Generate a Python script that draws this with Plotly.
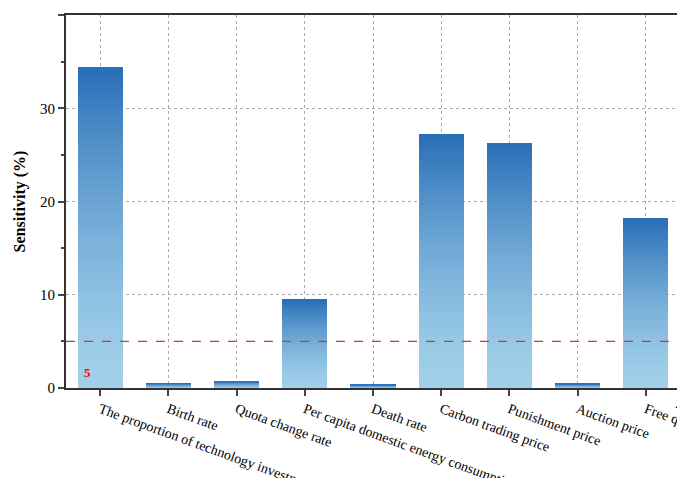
import plotly.graph_objects as go
import numpy as np

categories = ['The proportion of technology investment', 'Birth rate', 'Quota change rate',
              'Per capita domestic energy consumption', 'Death rate', 'Carbon trading price',
              'Punishment price', 'Auction price', 'Free quota']
sensitivity = [34.4, 0.5, 0.7, 9.5, 0.35, 27.2, 26.3, 0.45, 18.2]
threshold = 5

# fake a vertical gradient by stacking thin slices
n = 40
top = np.array([42, 112, 184])
bottom = np.array([160, 208, 234])
vals = np.array(sensitivity)

fig = go.Figure()
for i in range(n):
    t = (i / (n - 1)) ** 1.5
    c = bottom + (top - bottom) * t
    fig.add_trace(go.Bar(x=categories, y=vals / n, width=0.66,
                         marker=dict(color='rgb(%d,%d,%d)' % tuple(c), line_width=0),
                         showlegend=False, hoverinfo='skip'))

fig.add_hline(y=threshold, line=dict(color='#e03030', dash='dash', width=1.3))
fig.add_annotation(x=0, xref='paper', xshift=16, y=threshold - 3.3, text='<b>5</b>', showarrow=False,
                   font=dict(color='red', size=13, family='Liberation Serif'))
fig.add_annotation(x=1.01, xref='paper', y=0, yshift=-14, text='<b><i>x</i></b>', showarrow=False,
                   font=dict(size=16, family='Liberation Serif', color='black'))

fig.update_layout(
    barmode='stack', bargap=0.34, plot_bgcolor='white', paper_bgcolor='white',
    width=685, height=478, margin=dict(l=58, r=13, t=7, b=98),
    font=dict(family='Liberation Serif', size=14, color='black'),
)
fig.update_xaxes(tickangle=20, showline=True, linecolor='#333', linewidth=2, mirror=True,
                 ticks='outside', ticklen=6, tickwidth=1.5, automargin=False,
                 showgrid=True, gridcolor='#aaa', griddash='dot', gridwidth=1,
                 tickfont=dict(size=14))
fig.update_yaxes(range=[0, 40], dtick=10, showline=True, linecolor='#333', linewidth=2, mirror=True,
                 ticks='outside', ticklen=6, tickwidth=1.5, automargin=False,
                 minor=dict(ticks='outside', ticklen=3, dtick=5),
                 showgrid=True, gridcolor='#aaa', griddash='dot', gridwidth=1,
                 zeroline=False,
                 title=dict(text='<b>Sensitivity (%)</b>', font=dict(size=16), standoff=10),
                 tickfont=dict(size=15))

fig.write_html("out.html")
